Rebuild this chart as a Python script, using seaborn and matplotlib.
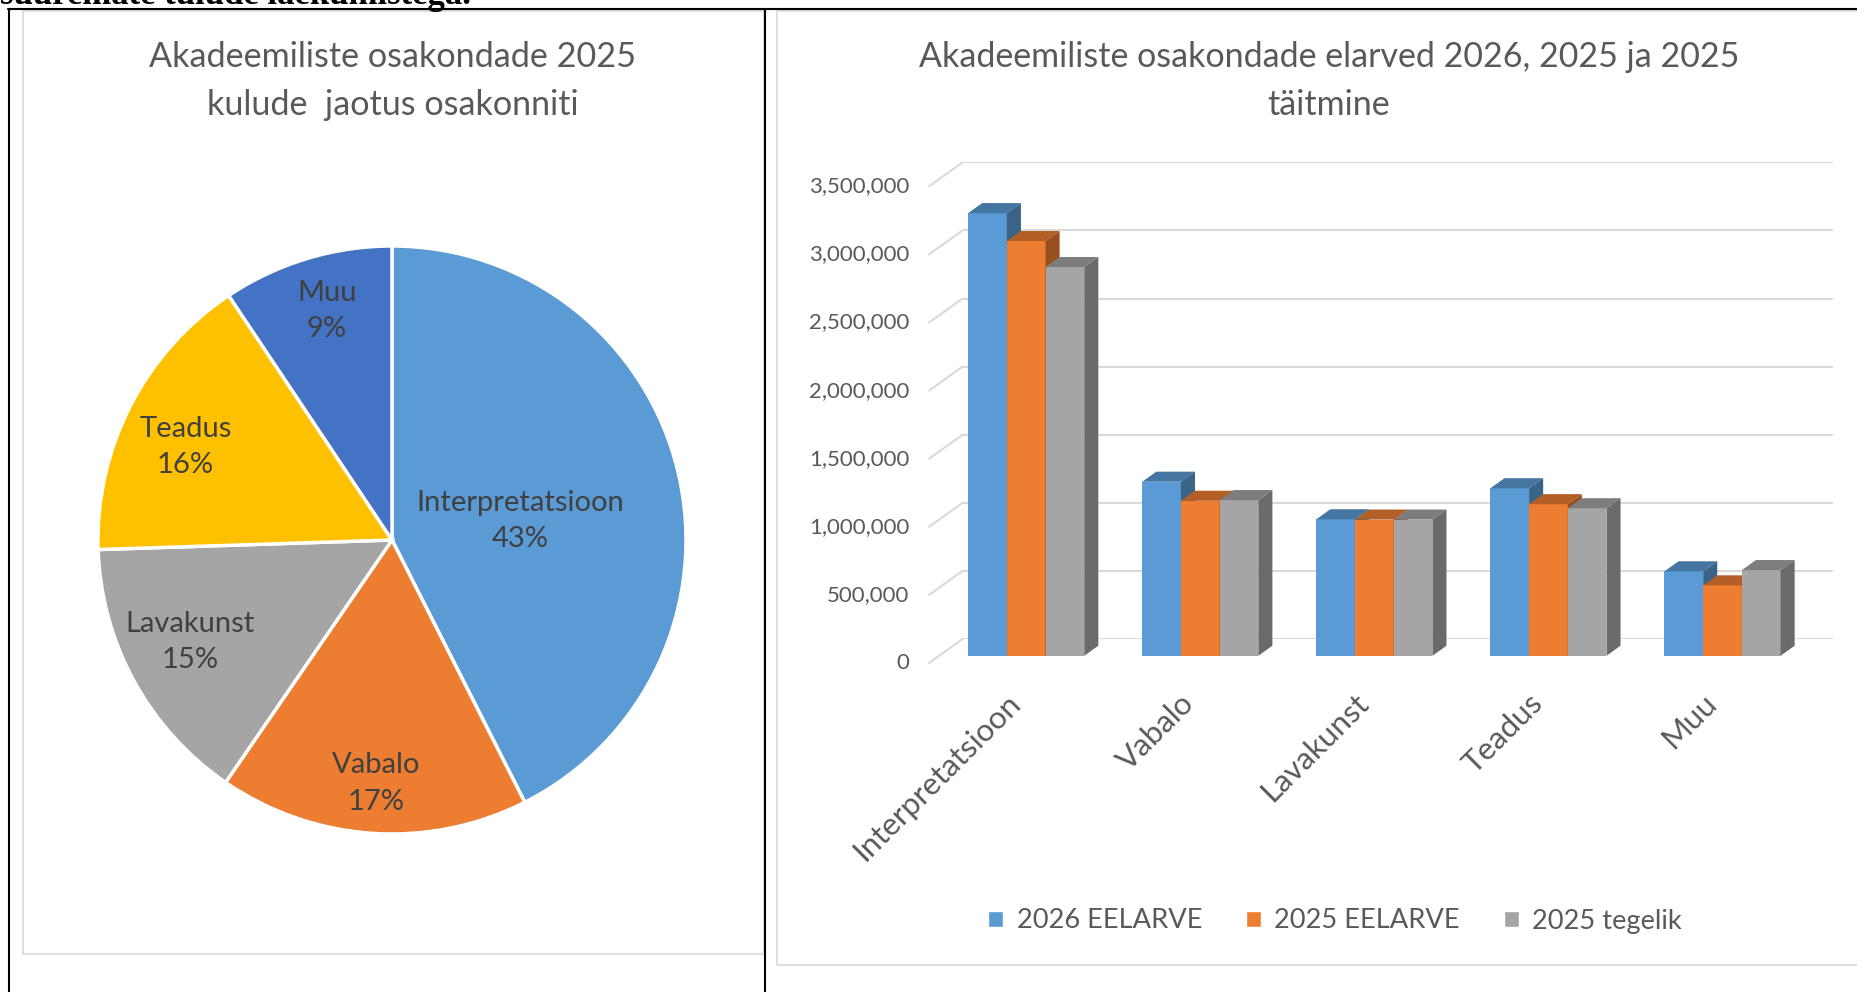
import matplotlib
matplotlib.use("Agg")
import matplotlib.pyplot as plt
import matplotlib.transforms as mtransforms
from matplotlib.patches import Polygon, Rectangle
from matplotlib.lines import Line2D
import numpy as np
import pandas as pd
import seaborn as sns

# data
departments = ["Interpretatsioon", "Vabalo", "Lavakunst", "Teadus", "Muu"]
series_names = ["2026 EELARVE", "2025 EELARVE", "2025 tegelik"]
budget_2026 = [3250000, 1278000, 1002000, 1230000, 620000]
budget_2025 = [3045000, 1138000, 1000000, 1113000, 517000]
actual_2025 = [2854000, 1143000, 1000000, 1083000, 629000]
y_ticks = [0, 500000, 1000000, 1500000, 2000000, 2500000, 3000000, 3500000]

pie_title = "Akadeemiliste osakondade 2025\nkulude  jaotus osakonniti"
bar_title = "Akadeemiliste osakondade elarved 2026, 2025 ja 2025\ntäitmine"
top_line = "suuremate tulude laekumistega."

pie_colors = ["#5B9BD5", "#ED7D31", "#A5A5A5", "#FFC000", "#4472C4"]
bar_colors = ["#5B9BD5", "#ED7D31", "#A5A5A5"]
label_radius = [0.44, 0.83, 0.77, 0.77, 0.81]
label_nudge = [-5, 0, -2, 3, -1]  # degrees, Excel "best fit" placement
text_grey = "#595959"
grid_grey = "#D9D9D9"

W, H = 1858, 992


def box(x0, y0, x1, y1):
    # pixel box (from top-left) -> figure fraction rect
    return [x0 / W, 1 - y1 / H, (x1 - x0) / W, (y1 - y0) / H]


def fx(x):
    return x / W


def fy(y):
    return 1 - y / H


def shade(c, k):
    return (c[0] * k, c[1] * k, c[2] * k, 1)


sns.set_theme(style="white")
plt.rcParams["font.family"] = ["Lato", "DejaVu Sans"]

fig = plt.figure(figsize=(W / 100, H / 100), dpi=100)

# page text and table borders
fig.text(fx(0), fy(3.5), top_line, family="Liberation Serif", weight="bold",
         fontsize=25, color="black", ha="left", va="baseline")
for xs, ys in [([8, W], [9, 9]), ([8.5, 8.5], [9, H]), ([765, 765], [9, H])]:
    fig.add_artist(Line2D([fx(x) for x in xs], [fy(y) for y in ys],
                          color="black", lw=1.5, transform=fig.transFigure))
fig.add_artist(Rectangle((fx(23), fy(954)), (764 - 23) / W, (954 - 11) / H,
                         transform=fig.transFigure, fill=False,
                         edgecolor=grid_grey, lw=1.2))
fig.add_artist(Rectangle((fx(777), fy(965)), (1880 - 777) / W, (965 - 11) / H,
                         transform=fig.transFigure, fill=False,
                         edgecolor=grid_grey, lw=1.2, clip_on=False))

# pie chart
fig.text(fx(393), fy(81), pie_title, ha="center", va="center", fontsize=24.6,
         color=text_grey, linespacing=1.58)
pax = fig.add_axes(box(392 - 294, 540 - 294, 392 + 294, 540 + 294))
wedges, _ = pax.pie(actual_2025, colors=pie_colors, startangle=90, counterclock=False,
                    wedgeprops=dict(edgecolor="white", linewidth=2.5))
pax.set_xlim(-1, 1)
pax.set_ylim(-1, 1)
pax.set_aspect("equal")
pax.axis("off")
pct = np.array(actual_2025) / np.sum(actual_2025) * 100
for w, name, p, r, nd in zip(wedges, departments, pct, label_radius, label_nudge):
    ang = np.deg2rad((w.theta1 + w.theta2) / 2 + nd)
    pax.text(r * np.cos(ang), r * np.sin(ang), f"{name}\n{p:.0f}%", ha="center",
             va="center", fontsize=21, color="#404040", linespacing=1.48)

# bar chart (3D look like the Excel original)
fig.text(fx(1329), fy(81), bar_title, ha="center", va="center", fontsize=24.5,
         color=text_grey, linespacing=1.58)
bax = fig.add_axes(box(962.6, 162.3, 1833, 639))
df = pd.DataFrame({
    "department": departments * 3,
    "series": np.repeat(series_names, len(departments)),
    "value": budget_2026 + budget_2025 + actual_2025,
})
sns.barplot(data=df, x="department", y="value", hue="series", hue_order=series_names,
            palette=bar_colors, width=0.667, gap=0, saturation=1, ax=bax)
handles, labels = bax.get_legend_handles_labels()
bax.get_legend().remove()

wall_dx, wall_dy = 33.5, 24.0
ax_w_px, ax_h_px = 1833 - 962.6, 639 - 162.3
sx = 5 / ax_w_px
sy = 3500000 / ax_h_px
front_off = mtransforms.ScaledTranslation(-0.7 * wall_dx / 100, -0.7 * wall_dy / 100,
                                          fig.dpi_scale_trans)
bar_tr = bax.transData + front_off
ddx, ddy = 0.42 * wall_dx * sx, 0.42 * wall_dy * sy

bars = sorted([p for p in bax.patches if p.get_height() > 0], key=lambda p: p.get_x())
for i, p in enumerate(bars):
    z = 3 + i * 0.01
    x0, w, h = p.get_x(), p.get_width(), p.get_height()
    col = p.get_facecolor()
    p.set_transform(bar_tr)
    p.set_zorder(z)
    p.set_linewidth(0)
    p.set_clip_on(False)
    top = Polygon([(x0, h), (x0 + w, h), (x0 + w + ddx, h + ddy), (x0 + ddx, h + ddy)],
                  closed=True, transform=bar_tr, facecolor=shade(col, 0.76), lw=0,
                  zorder=z, clip_on=False)
    side = Polygon([(x0 + w, 0), (x0 + w, h), (x0 + w + ddx, h + ddy), (x0 + w + ddx, ddy)],
                   closed=True, transform=bar_tr, facecolor=shade(col, 0.64), lw=0,
                   zorder=z, clip_on=False)
    bax.add_patch(top)
    bax.add_patch(side)

ytrans = mtransforms.blended_transform_factory(bax.transAxes, bax.transData)
label_off = mtransforms.ScaledTranslation(-(wall_dx + 20) / 100, -wall_dy / 100,
                                          fig.dpi_scale_trans)
for v in y_ticks:
    bax.plot([-wall_dx / ax_w_px, 0], [v - wall_dy * sy, v], transform=ytrans,
             color=grid_grey, lw=1.5, clip_on=False, zorder=1)
    bax.text(0, v, f"{v:,}", transform=ytrans + label_off, ha="right", va="center",
             fontsize=16, color=text_grey)

xtrans = mtransforms.blended_transform_factory(bax.transData, bax.transAxes)
xlab_off = mtransforms.ScaledTranslation(-34 / 100, -60 / 100, fig.dpi_scale_trans)
for i, name in enumerate(departments):
    bax.text(i, 0, name, transform=xtrans + xlab_off, rotation=45, rotation_mode="anchor",
             ha="right", va="center", fontsize=22.5, color=text_grey)

bax.set_xlim(-0.5, 4.5)
bax.set_ylim(0, 3500000)
bax.set_yticks(y_ticks)
bax.yaxis.grid(True, color=grid_grey, lw=1.5)
bax.xaxis.grid(False)
bax.set_axisbelow(True)
bax.tick_params(labelleft=False, labelbottom=False, length=0)
bax.set_xlabel("")
bax.set_ylabel("")
sns.despine(ax=bax, left=True, bottom=True)

fig.legend(handles, labels, loc="center", bbox_to_anchor=(fx(1335), fy(921)), ncol=3,
           frameon=False, fontsize=19.6, handlelength=0.55, handleheight=0.55,
           handletextpad=0.5, columnspacing=1.6, labelcolor=text_grey)

fig.savefig("out.png", dpi=100)
